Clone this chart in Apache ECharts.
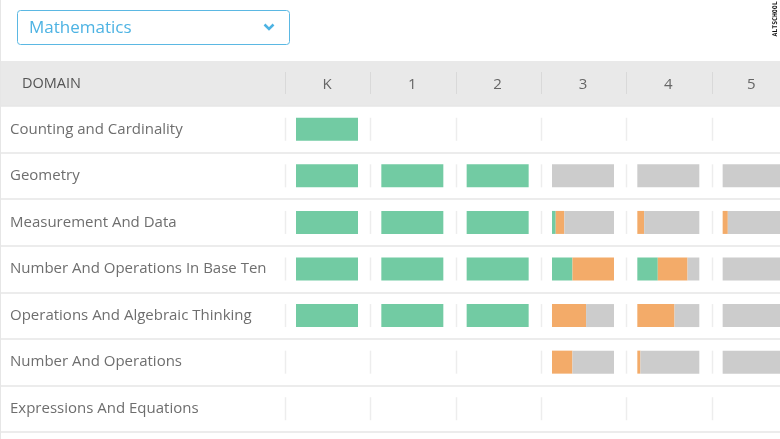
<!DOCTYPE html>
<html><head><meta charset="utf-8">
<script src="https://cdn.jsdelivr.net/npm/echarts@6/dist/echarts.min.js"></script>
<style>html,body{margin:0;padding:0;background:#fff}#c{width:780px;height:439px}</style>
</head><body><div id="c"></div>
<script>
const subject = 'Mathematics';
const grades = ['K', '1', '2', '3', '4', '5'];
const domains = ['Counting and Cardinality', 'Geometry', 'Measurement And Data', 'Number And Operations In Base Ten', 'Operations And Algebraic Thinking', 'Number And Operations', 'Expressions And Equations'];
// percent of each cell bar, per grade (rows = domains top to bottom)
const mastered = [
  [100, 100, 100, 100, 100, 0, 0],
  [0, 100, 100, 100, 100, 0, 0],
  [0, 100, 100, 100, 100, 0, 0],
  [0, 0, 6, 33, 0, 0, 0],
  [0, 0, 0, 33, 0, 0, 0],
  [0, 0, 0, 0, 0, 0, 0]
];
const inProgress = [
  [0, 0, 0, 0, 0, 0, 0],
  [0, 0, 0, 0, 0, 0, 0],
  [0, 0, 0, 0, 0, 0, 0],
  [0, 0, 14, 67, 55, 33, 0],
  [0, 0, 11, 48, 60, 5, 0],
  [0, 0, 9, 0, 0, 0, 0]
];
const notStarted = [
  [0, 0, 0, 0, 0, 0, 0],
  [0, 0, 0, 0, 0, 0, 0],
  [0, 0, 0, 0, 0, 0, 0],
  [0, 100, 80, 0, 45, 67, 0],
  [0, 100, 89, 19, 40, 95, 0],
  [0, 100, 91, 100, 100, 100, 0]
];

const FONT = "'Open Sans', 'Noto Sans', sans-serif";
const colors = ['#72cba3', '#f3ab69', '#cccccc'];
const bodyTop = 106, bodyH = 326, colStart = 285, colW = 85.33, barPad = 11, barLen = 62;
const rowH = bodyH / domains.length;

const grid = [{ left: 0, right: 0, top: bodyTop, height: bodyH }];
const xAxis = [{ gridIndex: 0, type: 'value', show: false, min: 0, max: 100 }];
const yAxis = [{
  gridIndex: 0, type: 'category', data: domains, inverse: true,
  axisLine: { show: false }, axisTick: { show: false },
  splitLine: { show: true, lineStyle: { color: '#e6e6e6', width: 1.5 } },
  axisLabel: { inside: true, margin: 10, color: '#6e6e6e', fontSize: 15, fontFamily: FONT, padding: [2, 0, 0, 0] }
}];
const series = [];
grades.forEach((g, i) => {
  const gi = i + 1;
  grid.push({ left: colStart + barPad + i * colW, width: barLen, top: bodyTop, height: bodyH });
  xAxis.push({
    gridIndex: gi, type: 'value', min: 0, max: 100, position: 'top',
    axisLine: { show: false }, axisTick: { show: false }, axisLabel: { show: false }, splitLine: { show: false },
    name: g, nameLocation: 'middle', nameGap: 14,
    nameTextStyle: { color: '#666', fontSize: 15, fontFamily: FONT }
  });
  yAxis.push({ gridIndex: gi, type: 'category', data: domains, inverse: true, show: false });
  [mastered, inProgress, notStarted].forEach((arr, k) => {
    series.push({
      type: 'bar', xAxisIndex: gi, yAxisIndex: gi, stack: 'g' + i, barWidth: 23,
      data: arr[i], itemStyle: { color: colors[k] }, silent: true, animation: false
    });
  });
});

const graphic = [
  { type: 'rect', z: -10, shape: { x: 0, y: 61, width: 780, height: 45 }, style: { fill: '#e9e9e9' } },
  { type: 'line', shape: { x1: 0.5, y1: 0, x2: 0.5, y2: 439 }, style: { stroke: '#e6e6e6', lineWidth: 1 } },
  { type: 'text', style: { text: 'DOMAIN', x: 22, y: 84, textVerticalAlign: 'middle', verticalAlign: 'middle', fill: '#555', fontSize: 14.5, fontFamily: FONT } },
  { type: 'rect', shape: { x: 17.5, y: 10.5, width: 272, height: 34, r: 3 }, style: { fill: '#fff', stroke: '#5bb8e3', lineWidth: 1 } },
  { type: 'text', style: { text: subject, x: 29, y: 28, verticalAlign: 'middle', textVerticalAlign: 'middle', fill: '#4db3e3', fontSize: 17, fontFamily: FONT } },
  { type: 'polyline', shape: { points: [[264.5, 24.5], [269, 29], [273.5, 24.5]] }, style: { stroke: '#4db3e3', lineWidth: 2.5, fill: null } },
  { type: 'text', rotation: Math.PI / 2, x: 775, y: 19, style: { text: 'ALTSCHOOL', x: 0, y: 0, align: 'center', verticalAlign: 'middle', textAlign: 'center', textVerticalAlign: 'middle', fill: '#111', fontSize: 6.5, fontWeight: 'bold', fontFamily: "'DejaVu Sans Mono', monospace" } }
];
grades.forEach((g, i) => {
  const x = Math.round(colStart + i * colW) + 0.5;
  graphic.push({ type: 'line', shape: { x1: x, y1: 72, x2: x, y2: 94 }, style: { stroke: '#d9d9d9', lineWidth: 1 } });
  domains.forEach((d, r) => {
    const cy = bodyTop + rowH * (r + 0.5);
    graphic.push({ type: 'line', shape: { x1: x, y1: cy - 11.5, x2: x, y2: cy + 11.5 }, style: { stroke: '#ededed', lineWidth: 1.5 } });
  });
});

const chart = echarts.init(document.getElementById('c'), null, { renderer: 'canvas' });
chart.setOption({ animation: false, grid, xAxis, yAxis, series, graphic });
</script></body></html>
